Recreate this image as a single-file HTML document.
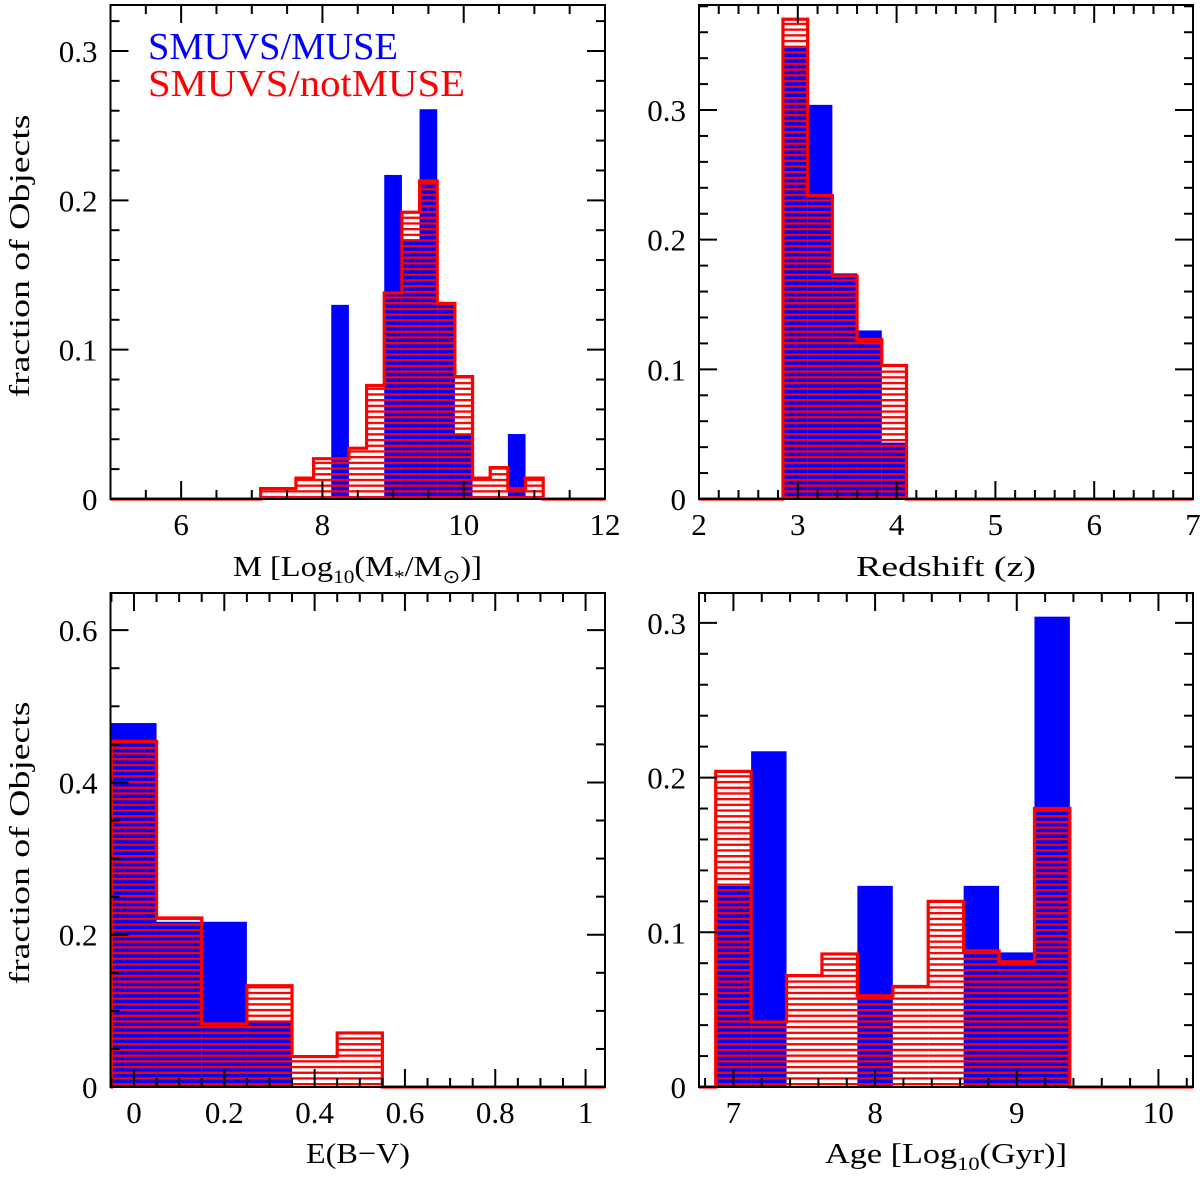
<!DOCTYPE html>
<html><head><meta charset="utf-8"><style>
html,body{margin:0;padding:0;background:#fff;}
svg{display:block;font-family:"Liberation Serif",serif;}
</style></head><body>
<svg id="fig" width="1200" height="1179" viewBox="0 0 1200 1179" xmlns="http://www.w3.org/2000/svg">
<defs>
<pattern id="hatch" patternUnits="userSpaceOnUse" width="8" height="5.7">
<rect x="0" y="0" width="8" height="2.3" fill="#ff0000"/>
</pattern>
</defs>
</svg>
<script>
// ---- Panel A: stellar mass ----
const massEdges0 = 7.125, massBinW = 0.25;
const massMuse = [0,0,0,0,0.130,0,0,0.217,0.174,0.261,0.130,0.0435,0,0,0.0435,0];
const massNotMuse = [0.007,0.007,0.014,0.027,0.027,0.034,0.076,0.138,0.192,0.213,0.131,0.082,0.014,0.021,0.007,0.014];
const massXTicks = [6,8,10,12];
const massYTicks = [0,0.1,0.2,0.3];
// ---- Panel B: redshift ----
const zEdges0 = 2.85, zBinW = 0.25;
const zMuse = [0.348,0.304,0.174,0.130,0.0435];
const zNotMuse = [0.370,0.234,0.172,0.123,0.103];
const zXTicks = [2,3,4,5,6,7];
const zYTicks = [0,0.1,0.2,0.3];
// ---- Panel C: E(B-V) ----
const ebvEdges0 = -0.05, ebvBinW = 0.1;
const ebvMuse = [0.478,0.217,0.217,0.087,0,0];
const ebvNotMuse = [0.454,0.222,0.083,0.133,0.040,0.071];
const ebvXTicks = [0,0.2,0.4,0.6,0.8,1];
const ebvYTicks = [0,0.2,0.4,0.6];
// ---- Panel D: age ----
const ageEdges0 = 6.875, ageBinW = 0.25;
const ageMuse = [0.130,0.217,0,0,0.130,0,0,0.130,0.087,0.304];
const ageNotMuse = [0.204,0.042,0.072,0.086,0.059,0.065,0.120,0.088,0.081,0.180];
const ageXTicks = [7,8,9,10];
const ageYTicks = [0,0.1,0.2,0.3];

const NS='http://www.w3.org/2000/svg';
const svg=document.getElementById('fig');
function mk(tag,attrs,parent){const e=document.createElementNS(NS,tag);for(const k in attrs)e.setAttribute(k,attrs[k]);(parent||svg).appendChild(e);return e;}

function panel(cfg){
  const g=mk('g',{});
  
  
  const L=cfg.box[0],T=cfg.box[1],R=cfg.box[2],B=cfg.box[3];
  const sx=v=>L+(v-cfg.xr[0])/(cfg.xr[1]-cfg.xr[0])*(R-L);
  const sy=v=>B-(v-cfg.yr[0])/(cfg.yr[1]-cfg.yr[0])*(B-T);
  cfg.muse.forEach((v,i)=>{
    if(v<=0)return;
    const x0=sx(cfg.e0+i*cfg.w),x1=sx(cfg.e0+(i+1)*cfg.w);
    const r=mk('rect',{x:x0,y:sy(v),width:x1-x0,height:B-sy(v),fill:'#0000ff'},g);
    
    
  });
  cfg.notmuse.forEach((v,i)=>{
    if(v<=0)return;
    const x0=sx(cfg.e0+i*cfg.w),x1=sx(cfg.e0+(i+1)*cfg.w);
    const r=mk('rect',{x:x0,y:sy(v),width:x1-x0,height:B-sy(v),fill:'url(#hatch)'},g);
    
    
  });
  let d='M'+L+','+B;
  const n=cfg.notmuse.length;
  d+=' L'+sx(cfg.e0)+','+B;
  cfg.notmuse.forEach((v,i)=>{d+=' L'+sx(cfg.e0+i*cfg.w)+','+sy(v)+' L'+sx(cfg.e0+(i+1)*cfg.w)+','+sy(v);});
  d+=' L'+sx(cfg.e0+n*cfg.w)+','+B+' L'+R+','+B;
  const p=mk('path',{d:d,fill:'none',stroke:'#ff0000','stroke-width':3.2,'stroke-linejoin':'miter'},g);
  
  
  const box=mk('rect',{x:L,y:T,width:R-L,height:B-T,fill:'none',stroke:'#000','stroke-width':2},g);
  
  
  const tk=(x1,y1,x2,y2)=>mk('line',{x1:x1,y1:y1,x2:x2,y2:y2,stroke:'#000','stroke-width':2},g);
  for(let k=0;;k++){
    const v=cfg.xMinorStart+k*cfg.xMinor; if(v>cfg.xr[1]+1e-9)break;
    if(v<cfg.xr[0]-1e-9)continue;
    const major=Math.abs(v/cfg.xMajor-Math.round(v/cfg.xMajor))<1e-6;
    const len=major?18:9, x=sx(v);
    tk(x,B,x,B-len); tk(x,T,x,T+len);
  }
  for(let k=0;;k++){
    const v=k*cfg.yMinor; if(v>cfg.yr[1]+1e-9)break;
    const major=Math.abs(v/cfg.yMajor-Math.round(v/cfg.yMajor))<1e-6;
    const len=major?18:9, y=sy(v);
    tk(L,y,L+len,y); tk(R,y,R-len,y);
  }
  cfg.xt.forEach(v=>{
    const t=mk('text',{x:sx(v),y:B+36,'text-anchor':'middle','font-size':31,fill:'#000'},g);
    t.textContent=String(v);
    
    
  });
  cfg.yt.forEach(v=>{
    const t=mk('text',{x:L-13,y:sy(v)+11,'text-anchor':'end','font-size':31,fill:'#000'},g);
    t.textContent=String(v);
    
    
  });
  return g;
}

panel({name:'mass-panel',box:[110.5,5,605,499],xr:[5,12],yr:[0,0.3308],e0:massEdges0,w:massBinW,muse:massMuse,notmuse:massNotMuse,xt:massXTicks,yt:massYTicks,xMinorStart:5,xMinor:0.5,xMajor:2,yMinor:0.02,yMajor:0.1});
panel({name:'redshift-panel',box:[699,5,1193,499],xr:[2,7],yr:[0,0.381],e0:zEdges0,w:zBinW,muse:zMuse,notmuse:zNotMuse,xt:zXTicks,yt:zYTicks,xMinorStart:2,xMinor:0.2,xMajor:1,yMinor:0.02,yMajor:0.1});
panel({name:'ebv-panel',box:[110.5,593,605,1087],xr:[-0.052,1.043],yr:[0,0.6488],e0:ebvEdges0,w:ebvBinW,muse:ebvMuse,notmuse:ebvNotMuse,xt:ebvXTicks,yt:ebvYTicks,xMinorStart:-0.05,xMinor:0.05,xMajor:0.2,yMinor:0.05,yMajor:0.2});
panel({name:'age-panel',box:[699,593,1193,1087],xr:[6.757,10.244],yr:[0,0.3193],e0:ageEdges0,w:ageBinW,muse:ageMuse,notmuse:ageNotMuse,xt:ageXTicks,yt:ageYTicks,xMinorStart:6.8,xMinor:0.2,xMajor:1,yMinor:0.02,yMajor:0.1});
</script>
<svg width="1200" height="1179" style="position:absolute;left:0;top:0;font-family:'Liberation Serif',serif">
<text x="148" y="59" font-size="38" fill="#0000ff" textLength="250" lengthAdjust="spacingAndGlyphs">SMUVS/MUSE</text>
<text x="148" y="96" font-size="38" fill="#ff0000" textLength="317" lengthAdjust="spacingAndGlyphs">SMUVS/notMUSE</text>
<text transform="translate(29,256) rotate(-90)" text-anchor="middle" font-size="29" fill="#000" textLength="283" lengthAdjust="spacingAndGlyphs">fraction of Objects</text>
<text transform="translate(29,843) rotate(-90)" text-anchor="middle" font-size="29" fill="#000" textLength="283" lengthAdjust="spacingAndGlyphs">fraction of Objects</text>
<text x="233" y="576" font-size="29" fill="#000" textLength="249" lengthAdjust="spacingAndGlyphs">M [Log<tspan font-size="19" dy="7">10</tspan><tspan dy="-7">(M</tspan><tspan font-size="19" dy="7">*</tspan><tspan dy="-7">/M</tspan><tspan font-size="19" dy="7">⊙</tspan><tspan dy="-7">)]</tspan></text>
<text x="856" y="576" font-size="29" fill="#000" textLength="180" lengthAdjust="spacingAndGlyphs">Redshift (z)</text>
<text x="306" y="1163" font-size="29" fill="#000" textLength="104" lengthAdjust="spacingAndGlyphs">E(B−V)</text>
<text x="825" y="1163" font-size="29" fill="#000" textLength="242" lengthAdjust="spacingAndGlyphs">Age [Log<tspan font-size="19" dy="7">10</tspan><tspan dy="-7">(Gyr)]</tspan></text>
</svg>
</body></html>
